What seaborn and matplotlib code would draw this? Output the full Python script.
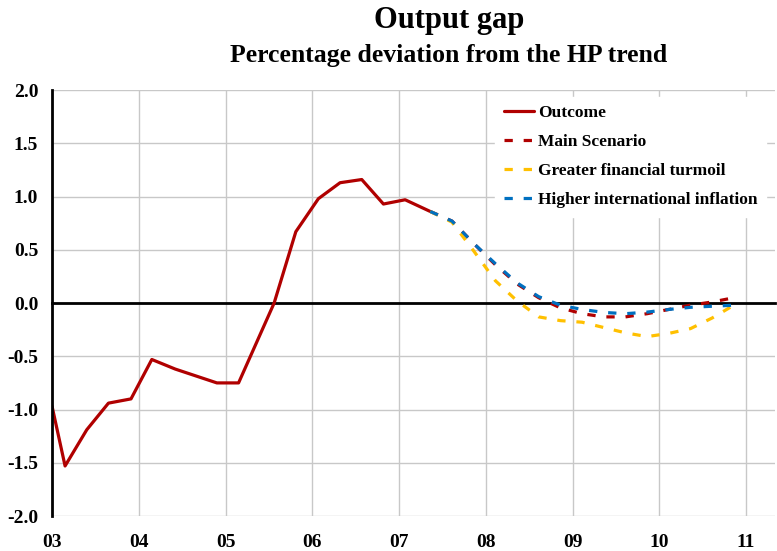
import numpy as np
import pandas as pd
import matplotlib
matplotlib.use("Agg")
import matplotlib.pyplot as plt
import seaborn as sns

sns.set_style("white")
plt.rcParams['font.family'] = ['Liberation Serif', 'DejaVu Serif']
plt.rcParams['font.weight'] = 'bold'
plt.rcParams['text.color'] = 'black'
plt.rcParams['xtick.color'] = 'black'
plt.rcParams['ytick.color'] = 'black'

# outcome (decimal years)
outcome_t = [2003.00, 2003.15, 2003.40, 2003.65, 2003.91, 2004.15, 2004.42, 2004.90,
             2005.15, 2005.56, 2005.81, 2006.07, 2006.32, 2006.57, 2006.82, 2007.07, 2007.36]
outcome_v = [-0.97, -1.53, -1.19, -0.94, -0.90, -0.53, -0.62, -0.75,
             -0.75, 0.00, 0.67, 0.98, 1.13, 1.16, 0.93, 0.97, 0.86]

# scenarios, quarterly from 2007.36
scen_t = [2007.36 + 0.25 * k for k in range(15)]
main_v = [0.86, 0.77, 0.56, 0.36, 0.18, 0.05, -0.045, -0.10, -0.13, -0.13,
          -0.10, -0.06, -0.02, 0.01, 0.05]
turmoil_v = [0.86, 0.76, 0.49, 0.21, 0.02, -0.13, -0.165, -0.18, -0.23, -0.28,
             -0.315, -0.285, -0.24, -0.14, -0.02]
inflation_v = [0.86, 0.77, 0.56, 0.37, 0.19, 0.06, -0.02, -0.06, -0.088, -0.10,
               -0.085, -0.06, -0.04, -0.03, -0.02]

year_ticks = list(range(2003, 2012))
year_labels = ['03', '04', '05', '06', '07', '08', '09', '10', '11']
y_ticks = [-2.0, -1.5, -1.0, -0.5, 0.0, 0.5, 1.0, 1.5, 2.0]

RED = '#B00000'
YELLOW = '#FFC000'
BLUE = '#0070C0'

fig = plt.figure(figsize=(7.77, 5.51), dpi=100)
ax = fig.add_axes([0.067, 0.0635, 0.930, 0.773])

df_out = pd.DataFrame({'t': outcome_t, 'v': outcome_v})
df_scen = pd.DataFrame({'t': scen_t, 'main': main_v, 'turmoil': turmoil_v, 'infl': inflation_v})

dash = (0, (2.6, 3.4))
sns.lineplot(data=df_out, x='t', y='v', ax=ax, color=RED, lw=2.3, label='Outcome', sort=False)
sns.lineplot(data=df_scen, x='t', y='main', ax=ax, color=RED, lw=2.3, linestyle=dash,
             label='Main Scenario', sort=False)
sns.lineplot(data=df_scen, x='t', y='turmoil', ax=ax, color=YELLOW, lw=2.3, linestyle=dash,
             label='Greater financial turmoil', sort=False)
sns.lineplot(data=df_scen, x='t', y='infl', ax=ax, color=BLUE, lw=2.3, linestyle=dash,
             label='Higher international inflation', sort=False)

ax.set_xlim(2003, 2011.33)
ax.set_ylim(-2.0, 2.0)
ax.set_xlabel('')
ax.set_ylabel('')

# grid
ax.set_xticks(year_ticks)
ax.set_yticks(y_ticks)
ax.grid(True, color='#C8C8C8', lw=1)
ax.set_axisbelow(True)

# spines: left axis black, x-axis on the zero line
for s in ['top', 'right']:
    ax.spines[s].set_visible(False)
ax.spines['left'].set_color('black')
ax.spines['left'].set_linewidth(2)
ax.spines['bottom'].set_position(('data', 0))
ax.spines['bottom'].set_color('black')
ax.spines['bottom'].set_linewidth(2)
ax.spines['bottom'].set_zorder(1.5)

ax.tick_params(axis='x', direction='inout', length=8, width=1.5, color='black',
               labelbottom=False)
ax.tick_params(axis='y', direction='in', length=5, width=1.5, color='black',
               labelsize=14, pad=10)
ax.set_yticklabels([f'{v:.1f}' for v in y_ticks], fontweight='bold')

sec = ax.secondary_xaxis('bottom')
sec.set_xticks(year_ticks)
sec.set_xticklabels(year_labels, fontweight='bold', fontsize=14)
sec.tick_params(length=0, pad=13)
sec.spines['bottom'].set_visible(False)

leg = ax.legend(loc='upper right', bbox_to_anchor=(1.0, 1.005), frameon=True,
                prop={'family': 'Liberation Serif', 'weight': 'bold', 'size': 12.5},
                handlelength=1.75, handletextpad=0.2, labelspacing=0.74,
                borderpad=0.5, fancybox=False)
leg.get_frame().set_edgecolor('white')
leg.get_frame().set_facecolor('white')
leg.get_frame().set_alpha(1)

fig.text(0.578, 0.963, 'Output gap', ha='center', va='center', fontsize=22, fontweight='bold')
fig.text(0.578, 0.899, 'Percentage deviation from the HP trend', ha='center', va='center',
         fontsize=18.5, fontweight='bold')

fig.savefig('out.png', dpi=100)
